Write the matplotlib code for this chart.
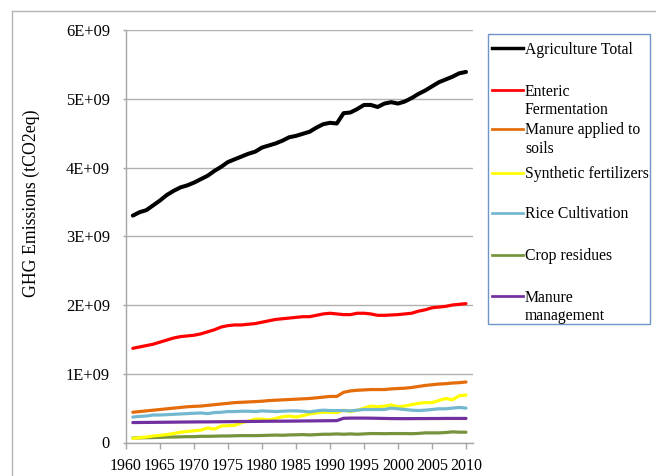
import matplotlib
matplotlib.use("Agg")
import matplotlib.pyplot as plt
from matplotlib.lines import Line2D
import numpy as np

years = list(range(1961, 2011))

agriculture_total = [3.30, 3.35, 3.38, 3.45, 3.52, 3.60, 3.66, 3.71, 3.74, 3.78,
                     3.83, 3.88, 3.95, 4.01, 4.08, 4.12, 4.16, 4.20, 4.23, 4.29,
                     4.32, 4.35, 4.39, 4.44, 4.46, 4.49, 4.52, 4.58, 4.63, 4.65,
                     4.64, 4.79, 4.80, 4.85, 4.91, 4.91, 4.88, 4.93, 4.95, 4.93,
                     4.96, 5.01, 5.07, 5.12, 5.18, 5.24, 5.28, 5.32, 5.37, 5.39]
enteric_fermentation = [1.37, 1.39, 1.41, 1.43, 1.46, 1.49, 1.52, 1.54, 1.55, 1.56,
                        1.58, 1.61, 1.64, 1.68, 1.70, 1.71, 1.71, 1.72, 1.73, 1.75,
                        1.77, 1.79, 1.80, 1.81, 1.82, 1.83, 1.83, 1.85, 1.87, 1.88,
                        1.87, 1.86, 1.86, 1.88, 1.88, 1.87, 1.85, 1.85, 1.855, 1.86,
                        1.87, 1.88, 1.91, 1.93, 1.96, 1.97, 1.98, 2.00, 2.01, 2.02]
manure_applied = [0.44, 0.45, 0.46, 0.47, 0.48, 0.49, 0.50, 0.51, 0.52, 0.525,
                  0.53, 0.54, 0.55, 0.56, 0.57, 0.58, 0.585, 0.59, 0.595, 0.60,
                  0.61, 0.615, 0.62, 0.625, 0.63, 0.635, 0.64, 0.65, 0.66, 0.67,
                  0.67, 0.73, 0.75, 0.76, 0.765, 0.77, 0.77, 0.77, 0.78, 0.785,
                  0.79, 0.80, 0.815, 0.83, 0.84, 0.85, 0.855, 0.865, 0.87, 0.88]
synthetic_fertilizers = [0.06, 0.07, 0.08, 0.095, 0.105, 0.115, 0.13, 0.15, 0.16, 0.17,
                         0.18, 0.21, 0.195, 0.24, 0.245, 0.25, 0.29, 0.31, 0.34, 0.34,
                         0.33, 0.35, 0.375, 0.385, 0.37, 0.39, 0.415, 0.43, 0.44, 0.44,
                         0.435, 0.47, 0.45, 0.47, 0.50, 0.53, 0.52, 0.53, 0.545, 0.52,
                         0.53, 0.55, 0.57, 0.58, 0.58, 0.61, 0.64, 0.62, 0.68, 0.69]
rice_cultivation = [0.37, 0.38, 0.385, 0.40, 0.40, 0.405, 0.41, 0.415, 0.42, 0.425,
                    0.43, 0.42, 0.435, 0.44, 0.45, 0.45, 0.455, 0.455, 0.45, 0.46,
                    0.455, 0.45, 0.455, 0.46, 0.46, 0.455, 0.445, 0.46, 0.47, 0.465,
                    0.465, 0.465, 0.46, 0.47, 0.48, 0.48, 0.48, 0.48, 0.50, 0.49,
                    0.48, 0.47, 0.465, 0.47, 0.48, 0.49, 0.49, 0.50, 0.51, 0.50]
crop_residues = [0.065, 0.068, 0.07, 0.072, 0.075, 0.078, 0.08, 0.082, 0.085, 0.085,
                 0.09, 0.09, 0.092, 0.095, 0.095, 0.098, 0.10, 0.10, 0.10, 0.102,
                 0.105, 0.108, 0.105, 0.11, 0.112, 0.115, 0.11, 0.115, 0.12, 0.12,
                 0.125, 0.12, 0.125, 0.12, 0.125, 0.13, 0.13, 0.128, 0.13, 0.13,
                 0.13, 0.128, 0.132, 0.14, 0.14, 0.14, 0.145, 0.155, 0.15, 0.15]
manure_management = [0.29, 0.291, 0.292, 0.293, 0.294, 0.295, 0.296, 0.297, 0.298, 0.299,
                     0.30, 0.30, 0.301, 0.302, 0.303, 0.304, 0.305, 0.306, 0.307, 0.308,
                     0.309, 0.31, 0.31, 0.311, 0.312, 0.313, 0.314, 0.315, 0.316, 0.317,
                     0.318, 0.352, 0.355, 0.355, 0.355, 0.354, 0.352, 0.35, 0.348, 0.347,
                     0.347, 0.347, 0.348, 0.348, 0.349, 0.349, 0.35, 0.35, 0.35, 0.35]

series_labels = ["Agriculture Total", "Enteric\nFermentation", "Manure applied to\nsoils",
                 "Synthetic fertilizers", "Rice Cultivation", "Crop residues",
                 "Manure\nmanagement"]
series_values = [agriculture_total, enteric_fermentation, manure_applied,
                 synthetic_fertilizers, rice_cultivation, crop_residues, manure_management]
series_colors = ["#000000", "#ff0000", "#e46c0a", "#ffff00", "#74b8cf", "#77933c", "#7030a0"]
series_widths = [2.9, 2.3, 2.3, 2.3, 2.3, 2.3, 2.3]
# draw order (bottom to top)
draw_order = [5, 3, 6, 4, 2, 1, 0]

x_ticks = list(range(1960, 2011, 5))
y_ticks = [0, 1e9, 2e9, 3e9, 4e9, 5e9, 6e9]
y_tick_labels = ["0", "1E+09", "2E+09", "3E+09", "4E+09", "5E+09", "6E+09"]
y_label = "GHG Emissions (tCO2eq)"

W, H = 656, 476
fig = plt.figure(figsize=(W / 100, H / 100), dpi=100)
serif = ["Liberation Serif", "DejaVu Serif"]

# outer chart frame
frame_col = "#b3b3b3"
fig.add_artist(Line2D([12 / W, 12 / W], [0, 1 - 11 / H], color=frame_col, lw=1.0,
                      transform=fig.transFigure))
fig.add_artist(Line2D([12 / W, 1], [1 - 11 / H, 1 - 11 / H], color=frame_col, lw=1.0,
                      transform=fig.transFigure))

ax = fig.add_axes([126 / W, 1 - 442.5 / H, (473 - 126) / W, (442.5 - 30) / H])
for i in draw_order:
    ax.plot(years, np.array(series_values[i]) * 1e9, color=series_colors[i],
            lw=series_widths[i], solid_capstyle="round", solid_joinstyle="round", zorder=3)

ax.set_xlim(1960, 2011.03)
ax.set_ylim(0, 6e9)
ax.set_xticks(x_ticks)
ax.set_xticklabels([str(v) for v in x_ticks], fontfamily=serif, fontsize=11.5)
ax.set_yticks(y_ticks)
ax.set_yticklabels(y_tick_labels, fontfamily=serif, fontsize=11.8)
ax.grid(axis="y", color="#b0b0b0", lw=1.0, zorder=0)
for s in ["top", "right"]:
    ax.spines[s].set_visible(False)
for s in ["left", "bottom"]:
    ax.spines[s].set_color("#a6a6a6")
    ax.spines[s].set_linewidth(1.0)
ax.tick_params(axis="x", direction="out", length=4, width=1, color="#a6a6a6", pad=7.5)
ax.tick_params(axis="y", direction="out", length=2.5, width=1, color="#a6a6a6", pad=9)
ax.set_ylabel(y_label, fontfamily=serif, fontsize=12.8, labelpad=12)
ax.yaxis.set_label_coords(-(126 - 40) / (473 - 126), 0.5 + ((442.5 - 30) / 2 + 30 - 203) / (442.5 - 30))

# legend box
lx0, ly0, lx1, ly1 = 488, 34, 650, 324
fig.add_artist(plt.Rectangle((lx0 / W, 1 - ly1 / H), (lx1 - lx0) / W, (ly1 - ly0) / H,
                             transform=fig.transFigure, fill=False,
                             edgecolor="#6f95c8", lw=1.0))
entry_y = [48, 90, 129, 172.5, 213, 255, 296]
for i, lab in enumerate(series_labels):
    yy = 1 - entry_y[i] / H
    fig.add_artist(Line2D([492 / W, 523 / W], [yy, yy], color=series_colors[i],
                          lw=series_widths[i] * 0.85, transform=fig.transFigure))
    fig.text(525 / W, yy + 6.5 / H, lab, fontfamily=serif, fontsize=11.3,
             va="top", ha="left", linespacing=1.2)

fig.savefig("out.png", dpi=100)
